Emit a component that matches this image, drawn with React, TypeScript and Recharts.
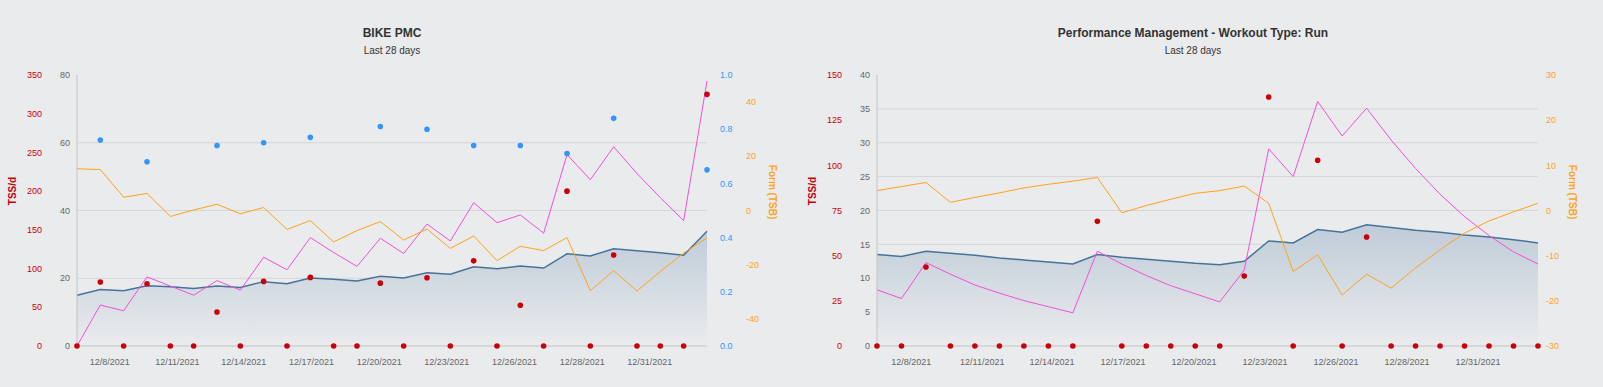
import { Area, CartesianGrid, ComposedChart, Line, XAxis, YAxis } from "recharts";

const FONT = '"Liberation Sans", Arial, Helvetica, sans-serif';

// 28 days, 12/7/2021 .. 1/3/2022
const days = [
  "12/7/2021", "12/8/2021", "12/9/2021", "12/10/2021", "12/11/2021", "12/12/2021", "12/13/2021",
  "12/14/2021", "12/15/2021", "12/16/2021", "12/17/2021", "12/18/2021", "12/19/2021", "12/20/2021",
  "12/21/2021", "12/22/2021", "12/23/2021", "12/24/2021", "12/25/2021", "12/26/2021", "12/27/2021",
  "12/28/2021", "12/29/2021", "12/30/2021", "12/31/2021", "1/1/2022", "1/2/2022", "1/3/2022"
];

// x tick labels (in day units from 12/7)
const dateTickPositions = [1.4, 4.3, 7.15, 10.05, 12.95, 15.85, 18.75, 21.65, 24.55];
const dateTickLabels = [
  "12/8/2021", "12/11/2021", "12/14/2021", "12/17/2021", "12/20/2021",
  "12/23/2021", "12/26/2021", "12/28/2021", "12/31/2021"
];

// BIKE PMC
const bikeFitness = [15.0, 16.7, 16.3, 17.8, 17.5, 17.0, 17.7, 17.3, 19.0, 18.4, 20.1, 19.7, 19.2, 20.6, 20.1, 21.6, 21.2, 23.4, 22.8, 23.6, 23.0, 27.2, 26.6, 28.7, 28.1, 27.5, 26.8, 33.9];
const bikeFatigue = [0, 12.1, 10.4, 20.4, 17.7, 15.0, 19.3, 16.5, 26.2, 22.5, 32.0, 27.6, 23.5, 31.8, 27.3, 36.0, 31.0, 42.3, 36.4, 38.7, 33.3, 56.5, 49.1, 58.8, 50.9, 43.8, 37.0, 78.2];
const bikeForm = [15.4, 15.1, 4.9, 6.3, -2.2, 0.2, 2.3, -1.2, 1.1, -7.0, -3.7, -11.6, -7.4, -4.1, -10.9, -6.8, -14.0, -9.4, -18.5, -13.2, -14.8, -10.0, -29.6, -22.2, -29.7, -22.5, -15.7, -10.1];
const bikeTss = [0, 82.6, 0, 80.4, 0, 0, 44.0, 0, 83.4, 0, 88.6, 0, 0, 81.2, 0, 88.2, 0, 110.0, 0, 52.7, 0, 200.0, 0, 117.5, 0, 0, 0, 325.0];
const bikeIntensity = [null, 0.76, null, 0.68, null, null, 0.74, null, 0.75, null, 0.77, null, null, 0.81, null, 0.8, null, 0.74, null, 0.74, null, 0.71, null, 0.84, null, null, null, 0.65];

const bikeLoadTicks = [0, 20, 40, 60, 80];
const bikeTssTicks = [0, 50, 100, 150, 200, 250, 300, 350];
const bikeIntensityTicks = [0, 0.2, 0.4, 0.6, 0.8, 1.0];
const bikeFormTicks = [-40, -20, 0, 20, 40];

// Run
const runFitness = [13.5, 13.2, 14.0, 13.7, 13.4, 13.0, 12.7, 12.4, 12.1, 13.5, 13.1, 12.8, 12.5, 12.2, 12.0, 12.5, 15.5, 15.2, 17.2, 16.8, 17.9, 17.5, 17.1, 16.8, 16.4, 16.1, 15.7, 15.2];
const runFatigue = [8.3, 7.0, 12.3, 10.6, 9.0, 7.8, 6.7, 5.8, 4.9, 14.0, 12.1, 10.4, 8.9, 7.7, 6.5, 11.2, 29.1, 25.0, 36.1, 31.0, 35.1, 30.4, 26.2, 22.4, 19.1, 16.3, 13.9, 12.1];
const runForm = [4.4, 5.3, 6.2, 1.8, 2.9, 3.9, 5.0, 5.8, 6.5, 7.3, -0.5, 1.1, 2.5, 3.8, 4.4, 5.4, 1.6, -13.5, -9.8, -18.7, -14.1, -17.2, -12.7, -8.7, -5.0, -2.3, -0.3, 1.6];
const runTss = [0, 0, 43.7, 0, 0, 0, 0, 0, 0, 69.0, 0, 0, 0, 0, 0, 38.7, 137.8, 0, 102.8, 0, 60.3, 0, 0, 0, 0, 0, 0, 0];

const runLoadTicks = [0, 5, 10, 15, 20, 25, 30, 35, 40];
const runTssTicks = [0, 25, 50, 75, 100, 125, 150];
const runFormTicks = [-30, -20, -10, 0, 10, 20, 30];

const COLORS = {
  bg: "#eaebed",
  grid: "#d4d5d7",
  axis: "#c2c3c5",
  load: "#666666",
  tss: "#c8000a",
  intensity: "#3396f7",
  form: "#ffa31a",
  fatigue: "#f54fd8",
  fitness: "#46739a"
};

const bikeRows = days.map((date, i) => ({
  day: i,
  date,
  fitness: bikeFitness[i],
  fatigue: bikeFatigue[i],
  form: bikeForm[i],
  tss: bikeTss[i],
  intensity: bikeIntensity[i]
}));

const runRows = days.map((date, i) => ({
  day: i,
  date,
  fitness: runFitness[i],
  fatigue: runFatigue[i],
  form: runForm[i],
  tss: runTss[i]
}));

const tickFont = { fontSize: 9, fontFamily: FONT };

function dateLabel(v: number) {
  const idx = dateTickPositions.indexOf(v);
  return idx >= 0 ? dateTickLabels[idx] : "";
}

function AxisTitle({ text, color, x, y, angle }: { text: string; color: string; x: number; y: number; angle: number }) {
  return (
    <div
      style={{
        position: "absolute",
        left: x,
        top: y,
        transform: `translate(-50%, -50%) rotate(${angle}deg)`,
        color,
        fontWeight: "bold",
        fontSize: 10,
        lineHeight: "10px",
        whiteSpace: "nowrap"
      }}
    >
      {text}
    </div>
  );
}

function Titles({ title, cx }: { title: string; cx: number }) {
  return (
    <>
      <div style={{ position: "absolute", left: cx - 200, width: 400, top: 27, textAlign: "center", fontWeight: "bold", fontSize: 12, lineHeight: "12px", color: "#333" }}>
        {title}
      </div>
      <div style={{ position: "absolute", left: cx - 200, width: 400, top: 46, textAlign: "center", fontSize: 10, lineHeight: "10px", color: "#333" }}>
        Last 28 days
      </div>
    </>
  );
}

export default function App() {
  return (
    <div
      style={{
        position: "absolute",
        left: 0,
        top: 0,
        width: 1603,
        height: 387,
        background: COLORS.bg,
        fontFamily: FONT,
        overflow: "hidden"
      }}
    >
      <Titles title="BIKE PMC" cx={392} />
      <Titles title="Performance Management - Workout Type: Run" cx={1193} />

      <div style={{ position: "absolute", left: 0, top: 0 }}>
        <ComposedChart width={800} height={387} data={bikeRows} margin={{ top: 75, right: 0, bottom: 11, left: 0 }}>
          <defs>
            <linearGradient id="bikeFill" x1="0" y1="0" x2="0" y2="1">
              <stop offset="0%" stopColor="#bfccd8" />
              <stop offset="100%" stopColor={COLORS.bg} />
            </linearGradient>
          </defs>
          <CartesianGrid vertical={false} yAxisId="load" horizontalValues={[20, 40, 60]} stroke={COLORS.grid} />
          <XAxis
            dataKey="day"
            type="number"
            domain={[0, 27]}
            ticks={dateTickPositions}
            tickFormatter={dateLabel}
            interval={0}
            height={30}
            tickLine={false}
            tickMargin={7}
            axisLine={{ stroke: COLORS.axis }}
            tick={{ ...tickFont, fill: COLORS.load }}
          />
          <YAxis yAxisId="load" orientation="left" width={27} domain={[0, 80]} ticks={bikeLoadTicks} interval={0}
            axisLine={{ stroke: COLORS.axis }} tickLine={false} tickSize={5} tickMargin={2} tick={{ ...tickFont, fill: COLORS.load }} />
          <YAxis yAxisId="tss" orientation="left" width={50} domain={[0, 350]} ticks={bikeTssTicks} interval={0}
            axisLine={false} tickLine={false} tick={{ ...tickFont, fill: COLORS.tss }} />
          <YAxis yAxisId="if" orientation="right" width={31} domain={[0, 1]} ticks={bikeIntensityTicks} interval={0}
            axisLine={false} tickLine={false} tickMargin={7} tickFormatter={(v: number) => v.toFixed(1)}
            tick={{ ...tickFont, fill: COLORS.intensity }} />
          <YAxis yAxisId="tsb" orientation="right" width={62} domain={[-50, 50]} ticks={bikeFormTicks} interval={0}
            axisLine={false} tickLine={false} tick={{ ...tickFont, fill: COLORS.form }} />

          <Area yAxisId="load" type="linear" dataKey="fitness" stroke={COLORS.fitness} strokeWidth={1.5}
            fill="url(#bikeFill)" fillOpacity={1} isAnimationActive={false} dot={false} activeDot={false} />
          <Line yAxisId="load" type="linear" dataKey="fatigue" stroke={COLORS.fatigue} strokeWidth={1}
            dot={false} activeDot={false} isAnimationActive={false} />
          <Line yAxisId="tsb" type="linear" dataKey="form" stroke={COLORS.form} strokeWidth={1}
            dot={false} activeDot={false} isAnimationActive={false} />
          <Line yAxisId="tss" type="linear" dataKey="tss" stroke="none"
            dot={{ r: 2.8, fill: COLORS.tss, stroke: "none" }} activeDot={false} isAnimationActive={false} />
          <Line yAxisId="if" type="linear" dataKey="intensity" stroke="none"
            dot={{ r: 2.8, fill: COLORS.intensity, stroke: "none" }} activeDot={false} isAnimationActive={false} />
        </ComposedChart>
      </div>

      <div style={{ position: "absolute", left: 800, top: 0 }}>
        <ComposedChart width={803} height={387} data={runRows} margin={{ top: 75, right: 3, bottom: 11, left: 0 }}>
          <defs>
            <linearGradient id="runFill" x1="0" y1="0" x2="0" y2="1">
              <stop offset="0%" stopColor="#bfccd8" />
              <stop offset="100%" stopColor={COLORS.bg} />
            </linearGradient>
          </defs>
          <CartesianGrid vertical={false} yAxisId="load" horizontalValues={[5, 10, 15, 20, 25, 30, 35]} stroke={COLORS.grid} />
          <XAxis
            dataKey="day"
            type="number"
            domain={[0, 27]}
            ticks={dateTickPositions}
            tickFormatter={dateLabel}
            interval={0}
            height={30}
            tickLine={false}
            tickMargin={7}
            axisLine={{ stroke: COLORS.axis }}
            tick={{ ...tickFont, fill: COLORS.load }}
          />
          <YAxis yAxisId="load" orientation="left" width={27} domain={[0, 40]} ticks={runLoadTicks} interval={0}
            axisLine={{ stroke: COLORS.axis }} tickLine={false} tickSize={5} tickMargin={2} tick={{ ...tickFont, fill: COLORS.load }} />
          <YAxis yAxisId="tss" orientation="left" width={50} domain={[0, 150]} ticks={runTssTicks} interval={0}
            axisLine={false} tickLine={false} tick={{ ...tickFont, fill: COLORS.tss }} />
          <YAxis yAxisId="tsb" orientation="right" width={62} domain={[-30, 30]} ticks={runFormTicks} interval={0}
            axisLine={false} tickLine={false} tick={{ ...tickFont, fill: COLORS.form }} />

          <Area yAxisId="load" type="linear" dataKey="fitness" stroke={COLORS.fitness} strokeWidth={1.5}
            fill="url(#runFill)" fillOpacity={1} isAnimationActive={false} dot={false} activeDot={false} />
          <Line yAxisId="load" type="linear" dataKey="fatigue" stroke={COLORS.fatigue} strokeWidth={1}
            dot={false} activeDot={false} isAnimationActive={false} />
          <Line yAxisId="tsb" type="linear" dataKey="form" stroke={COLORS.form} strokeWidth={1}
            dot={false} activeDot={false} isAnimationActive={false} />
          <Line yAxisId="tss" type="linear" dataKey="tss" stroke="none"
            dot={{ r: 2.8, fill: COLORS.tss, stroke: "none" }} activeDot={false} isAnimationActive={false} />
        </ComposedChart>
      </div>

      <AxisTitle text="TSS/d" color={COLORS.tss} x={13} y={191} angle={-90} />
      <AxisTitle text="Form (TSB)" color={COLORS.form} x={772} y={192} angle={90} />
      <AxisTitle text="TSS/d" color={COLORS.tss} x={813} y={191} angle={-90} />
      <AxisTitle text="Form (TSB)" color={COLORS.form} x={1572} y={192} angle={90} />
    </div>
  );
}
